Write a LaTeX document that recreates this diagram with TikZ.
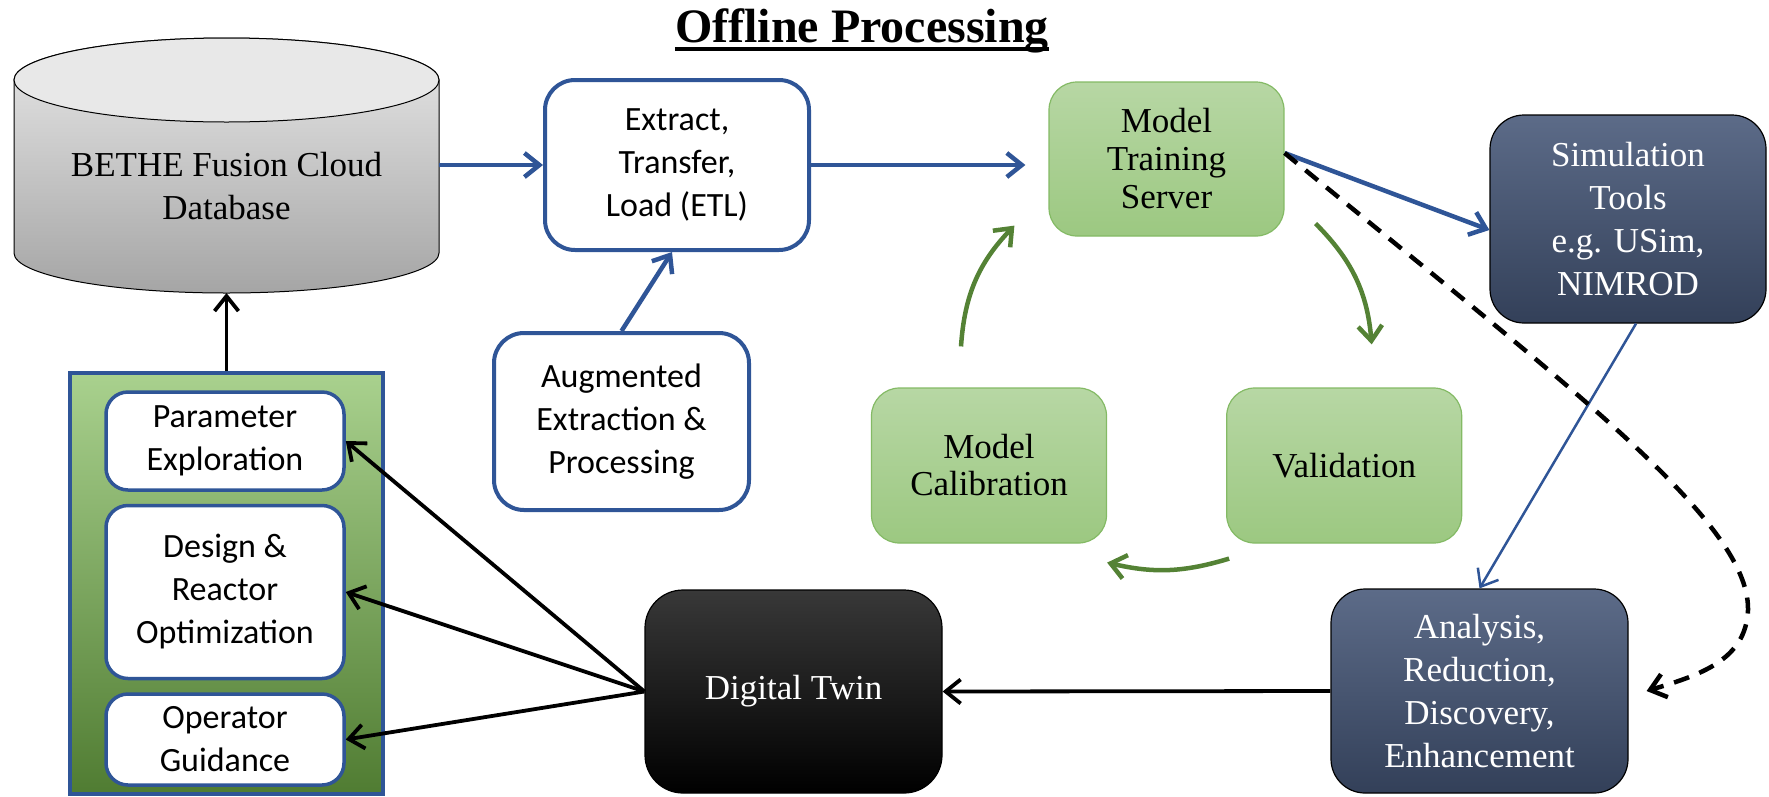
\documentclass[tikz,border=0pt]{standalone}
\usepackage{fontspec}
\setmainfont{Liberation Serif}
\newfontfamily\calibri{Carlito}
\usetikzlibrary{arrows.meta,positioning}

\definecolor{bluline}{RGB}{47,85,151}
\definecolor{grntop}{RGB}{183,215,164}
\definecolor{grnbot}{RGB}{156,200,129}
\definecolor{grnline}{RGB}{132,186,101}
\definecolor{grnarrow}{RGB}{84,130,53}
\definecolor{pnltop}{RGB}{169,209,142}
\definecolor{pnlmid}{RGB}{122,178,77}
\definecolor{pnlbot}{RGB}{80,124,50}
\definecolor{navtop}{RGB}{92,107,136}
\definecolor{navbot}{RGB}{51,64,89}
\definecolor{dblight}{RGB}{232,232,232}
\definecolor{dbdark}{RGB}{165,165,165}

\tikzset{
	rmtext/.style={font=\fontsize{35pt}{43pt}\selectfont, align=center},
	sftext/.style={font=\calibri\fontsize{34pt}{43pt}\selectfont, align=center},
	blubox/.style={sftext, draw=bluline, line width=4pt, fill=white, rounded corners=30pt},
	subbox/.style={blubox, line width=3.5pt, rounded corners=22pt, minimum width=238pt},
	grnbox/.style={rmtext, draw=grnline, line width=1.2pt, top color=grntop, bottom color=grnbot, rounded corners=28pt, minimum width=235pt, minimum height=155pt},
	navbox/.style={rmtext, text=white, draw=black, line width=1.2pt, top color=navtop, bottom color=navbot, rounded corners=34pt},
	flow/.style={draw=bluline, line width=4.5pt, -{Straight Barb[length=15pt,width=24pt]}},
	link/.style={draw=black, line width=3.8pt, -{Straight Barb[length=15pt,width=24pt]}},
	cyc/.style={draw=grnarrow, line width=4.5pt, -{Straight Barb[length=15pt,width=24pt]}},
}

\begin{document}
\begin{tikzpicture}[x=1pt,y=-1pt]
	\useasboundingbox (0,0) rectangle (1769,796);
	\node[font=\fontsize{48pt}{48pt}\selectfont\bfseries, anchor=base, inner sep=0pt] (title) at (862,42) {Offline Processing};
	\draw[line width=3.5pt] ([yshift=-7pt]title.base west) -- ([yshift=-7pt]title.base east);
	%
	\shade[top color=dblight, bottom color=dbdark, draw=black, line width=1pt]
		(14,80) -- (14,253) arc (180:0:212.5 and 40) -- (439,80) arc (360:180:212.5 and 42) -- cycle;
	\filldraw[fill=dblight, draw=black, line width=1pt] (226.5,80) ellipse (212.5 and 42);
	\node[rmtext] (dbtxt) at (226.5,186.5) {BETHE Fusion Cloud\\Database};
	\coordinate (dbright) at (439,165);
	\coordinate (dbbot) at (226.5,293);
	%
	\node[blubox, minimum width=264pt, minimum height=170pt] (etl) at (677,165) {Extract,\\Transfer,\\Load (ETL)};
	\node[blubox, minimum width=255pt, minimum height=177pt] (aug) at (621.5,421.5) {Augmented\\Extraction \&\\Processing};
	\node[grnbox, font=\fontsize{35pt}{38pt}\selectfont, minimum height=154pt] (train) at (1166.5,159) {Model\\Training\\Server};
	\node[grnbox, font=\fontsize{35pt}{37pt}\selectfont] (calib) at (989,465.5) {Model\\Calibration};
	\node[grnbox, right=119pt of calib] (valid) {Validation};
	\node[navbox, minimum width=276pt, minimum height=208pt] (sim) at (1628,219) {Simulation\\Tools\\e.g. USim,\\NIMROD};
	\node[navbox, minimum width=297pt, minimum height=204pt] (anal) at (1479.5,691) {Analysis,\\Reduction,\\Discovery,\\Enhancement};
	\node[navbox, top color=black!78, bottom color=black, rounded corners=38pt, minimum width=297pt, minimum height=203pt] (twin) at (793.5,691.5) {Digital Twin};
	%
	\node[draw=bluline, line width=3.5pt, top color=pnltop, middle color=pnlmid, bottom color=pnlbot, minimum width=313pt, minimum height=421pt, inner sep=0pt] (panel) at (226.5,583.5) {};
	\node[subbox, minimum height=98pt] (param) at (225,441) {Parameter\\Exploration};
	\node[subbox, minimum height=173pt, below=12pt of param] (design) {Design \&\\Reactor\\Optimization};
	\node[subbox, minimum height=91pt, below=12pt of design] (oper) {Operator\\Guidance};
	%
	\draw[flow] (dbright) -- (etl.west);
	\draw[flow, shorten >=23pt] (etl.east) -- (train.west |- etl.east);
	\draw[flow] (aug.north) -- ([xshift=-5pt]etl.south);
	\draw[flow] ([yshift=6pt]train.east) -- ([yshift=-11pt]sim.west);
	\draw[flow, line width=2.5pt] ([xshift=8pt]sim.south) -- (anal.north);
	\draw[link, line width=4.5pt, dash pattern=on 16pt off 11pt] ([yshift=6pt]train.east) .. controls (1560,380) and (1750,520) .. (1748,610) .. controls (1746,660) and (1700,675) .. ([xshift=18pt]anal.east);
	%
	\draw[cyc] ([shift={(-28,-41)}]calib.north) to[bend left=20] ([shift={(-34,-11)}]train.south west);
	\draw[cyc] ([shift={(31,-13)}]train.south east) to[bend left=20] ([shift={(27.5,-43)}]valid.north);
	\draw[cyc] ([shift={(3,15)}]valid.south west) to[bend left=15] ([shift={(0,19)}]calib.south east);
	%
	\draw[link] (panel.north) -- (dbbot);
	\draw[link] (anal.west) -- (twin.east);
	\draw[link] (twin.west) -- (param.east);
	\draw[link] (twin.west) -- (design.east);
	\draw[link] (twin.west) -- (oper.east);
\end{tikzpicture}
\end{document}
